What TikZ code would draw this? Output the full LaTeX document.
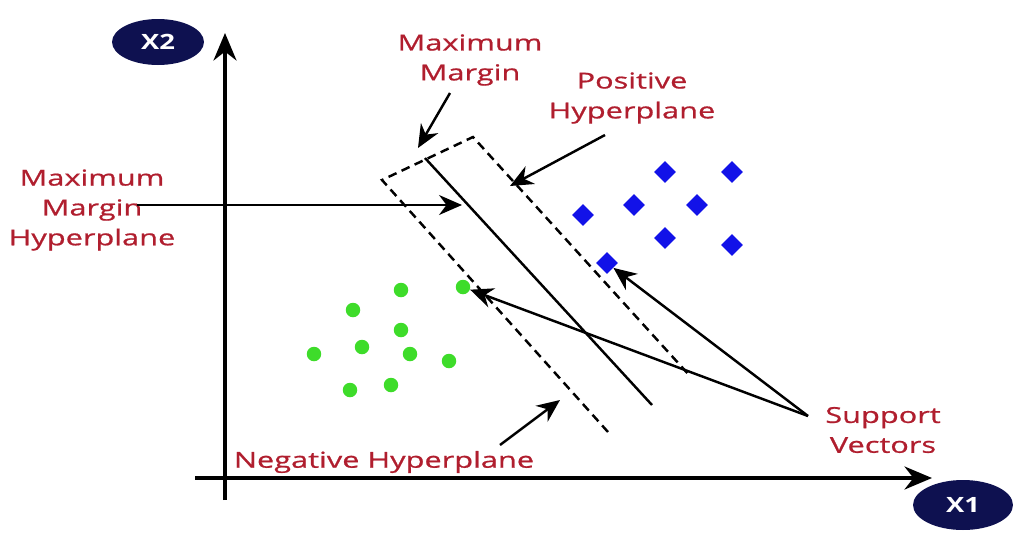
\documentclass[tikz,border=0pt]{standalone}
\usepackage{fontspec}
\newfontfamily\lblfont[FakeStretch=1.4, FakeBold=0.8]{Open Sans}
\newfontfamily\axisfont[FakeStretch=1.3]{Open Sans}
\usepackage{tikz}
\usetikzlibrary{shapes.geometric,arrows.meta}
\definecolor{LabelRed}{HTML}{B01E2E}
\definecolor{AxisNavy}{HTML}{0E1150}
\definecolor{PointBlue}{HTML}{1212E8}
\definecolor{PointGreen}{HTML}{3EDC2A}

\begin{document}
\begin{tikzpicture}[x=0.02cm, y=-0.02cm,
    lbl/.style={font=\lblfont\fontsize{12.5}{17}\selectfont, text=LabelRed, align=center, inner sep=0pt},
    axislbl/.style={ellipse, fill=AxisNavy, text=white, font=\axisfont\bfseries\fontsize{12}{14}\selectfont, inner sep=0pt},
    axis/.style={-{Stealth[length=5.5mm, width=4.6mm]}, line width=2pt},
    arr/.style={-{Stealth[length=4.6mm, width=4mm]}, line width=1.4pt},
    plane/.style={line width=1.4pt},
    marginline/.style={line width=1.4pt, dash pattern=on 5pt off 3.2pt},
    bluept/.style={diamond, fill=PointBlue, inner sep=0pt, minimum size=0.44cm},
    greenpt/.style={circle, fill=PointGreen, inner sep=0pt, minimum size=0.29cm}
  ]
    \useasboundingbox (0,0) rectangle (1019,549);

    % Axes
    \coordinate (yfoot) at (225,500);
    \coordinate (ytop) at (225,33);
    \coordinate (xfoot) at (195,478);
    \coordinate (xend) at (932,478);
    \draw[axis] (yfoot) -- (ytop);
    \draw[axis] (xfoot) -- (xend);
    \node[axislbl, minimum width=1.84cm, minimum height=0.92cm] (x2) at (158,42) {X2};
    \node[axislbl, minimum width=2cm, minimum height=1cm] (x1) at (963,505) {X1};

    % Data points
    \foreach \px/\py [count=\i] in {665/172, 732/172, 583/215, 634/205, 697/205, 665/238, 732/245, 607/263}
      \node[bluept] (p\i) at (\px,\py) {};
    \foreach \px/\py [count=\i] in {401/290, 463/287, 353/310, 401/330, 362/347, 410/354, 314/354, 449/361, 350/390, 391/385}
      \node[greenpt] (n\i) at (\px,\py) {};

    % Hyperplanes
    \coordinate (lt) at (382,180);
    \coordinate (rt) at (473,137);
    \coordinate (lb) at (608,432);
    \coordinate (rb) at (690,376);
    \coordinate (ht) at (425,158);
    \coordinate (hb) at (652,405);
    \draw[marginline] (lb) -- (lt) -- (rt) -- (rb);
    \draw[plane] (ht) -- (hb);

    % Labels
    \node[lbl] (mmtext) at (470,60) {Maximum\\Margin};
    \node[lbl] (postext) at (632,98) {Positive\\Hyperplane};
    \node[lbl] (mmhtext) at (92,210) {Maximum\\Margin\\Hyperplane};
    \node[lbl] (svtext) at (883,430) {Support\\Vectors};
    \node[lbl] (negtext) at (384,462) {Negative Hyperplane};

    % Pointers
    \coordinate (mmtail) at (450,93);
    \coordinate (mmtip) at (418,148);
    \coordinate (postail) at (605,135);
    \coordinate (postip) at (510,186);
    \coordinate (hyptail) at (137,205);
    \coordinate (hyptip) at (462,205);
    \coordinate (svtail) at (808,416);
    \coordinate (negtail) at (500,445);
    \coordinate (negtip) at (560,400);
    \draw[arr] (mmtail) -- (mmtip);
    \draw[arr] (postail) -- (postip);
    \draw[arr, line width=1pt] (hyptail) -- (hyptip);
    \draw[arr] (svtail) -- (p8);
    \draw[arr] (svtail) -- (n2);
    \draw[arr] (negtail) -- (negtip);
  \end{tikzpicture}
\end{document}
